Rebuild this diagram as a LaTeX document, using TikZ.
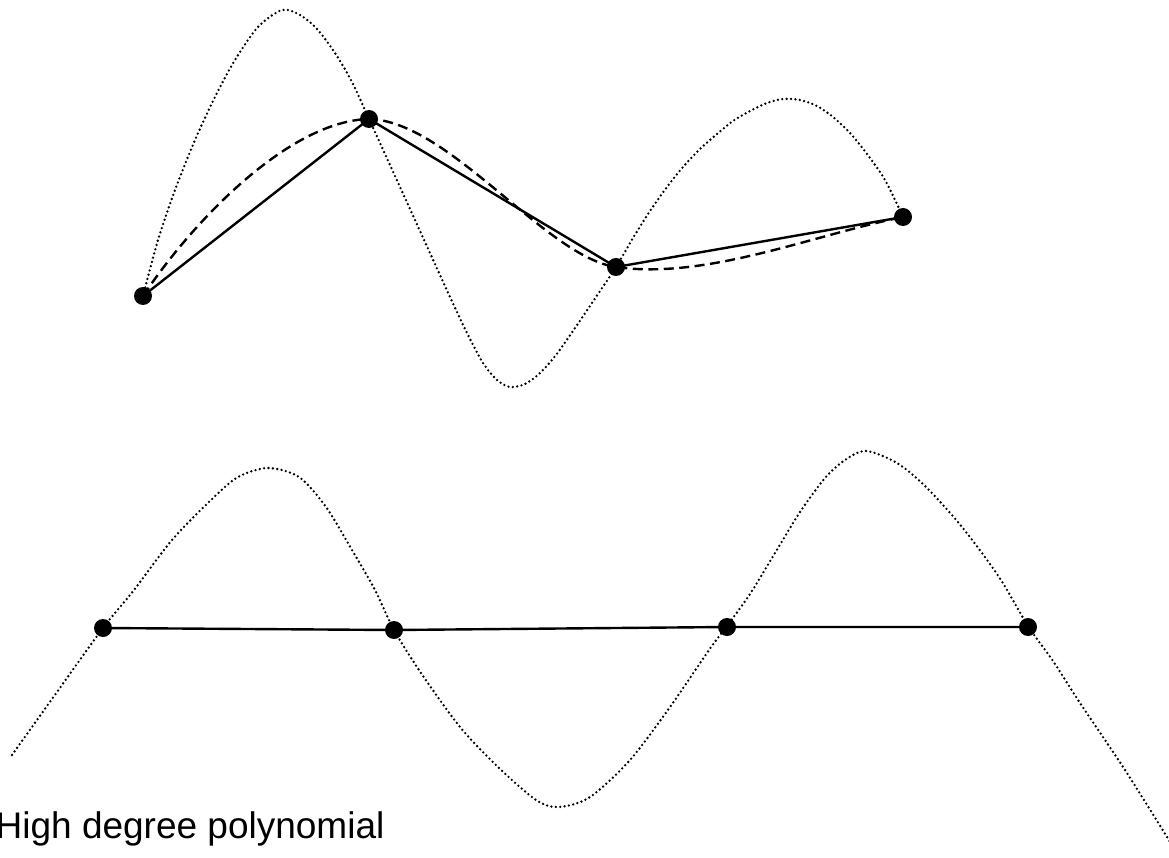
\documentclass[tikz,border=0pt]{standalone}
\usepackage{fontspec}
\newfontfamily\labelfont{Liberation Sans}
\begin{document}
\begin{tikzpicture}[x=1pt,y=-1pt,
  polyline/.style={line width=2.4pt, line cap=round, line join=round},
  dotcurve/.style={line width=2.6pt, line cap=round, dash pattern=on 0pt off 4.4pt},
  dashcurve/.style={line width=2.4pt, dash pattern=on 10pt off 5.5pt},
  datapt/.style={circle, fill=black, inner sep=0pt, minimum size=18pt}]
\useasboundingbox (0,0) rectangle (1169,858);

% ---------- top data points (coordinates) ----------
\coordinate (c1) at (143,296);
\coordinate (c2) at (369,119);
\coordinate (c3) at (616,267);
\coordinate (c4) at (903,217);

% ---------- top: high degree polynomial (dotted) ----------
\draw[dotcurve] plot[smooth, tension=0.5] coordinates {
 (143,296) (158,240) (175,190) (195,140) (215,97) (235,60) (258,27) (282,10)
 (300,15) (317,29) (335,53) (352,82) (369,119) (390,165) (410,209) (430,253)
 (450,297) (467,333) (483,363) (497,380) (510,387) (525,384) (540,373)
 (556,355) (575,328) (596,297) (616,267) (633,238) (650,211) (667,187)
 (683,167) (700,149) (717,134) (733,121) (750,111) (767,103) (783,99)
 (800,100) (817,106) (833,117) (850,133) (867,154) (885,180) (903,217)};

% ---------- top: smooth spline (dashed) ----------
\draw[dashcurve] (c1) .. controls (193,221) and (289,121) .. (c2)
                      .. controls (449,121) and (546,257) .. (c3)
                      .. controls (706,280) and (813,235) .. (c4);

% ---------- top nodes and polyline ----------
\node[datapt] (p1) at (c1) {};
\node[datapt] (p2) at (c2) {};
\node[datapt] (p3) at (c3) {};
\node[datapt] (p4) at (c4) {};
\draw[polyline] (p1.center) -- (p2.center) -- (p3.center) -- (p4.center);

% ---------- bottom: polynomial (dotted) ----------
\draw[dotcurve] plot[smooth, tension=0.5] coordinates {
 (12,755) (57,692) (103,628) (134,590) (172,540) (211,500) (238,477)
 (268,468) (299,477) (326,507) (352,550) (375,590) (394,630) (421,673)
 (460,727) (498,767) (536,800) (559,807) (590,797) (630,760) (670,707)
 (709,650) (727,626) (750,594) (775,553) (800,512) (825,478) (845,460)
 (866,451) (897,463) (926,487) (962,527) (999,577) (1028,626) (1053,661)
 (1080,703) (1125,770) (1172,845)};

% ---------- bottom nodes and polyline ----------
\node[datapt] (q1) at (103,628) {};
\node[datapt] (q2) at (394,630) {};
\node[datapt] (q3) at (727,627) {};
\node[datapt] (q4) at (1028,627) {};
\draw[polyline] (q1.center) -- (q2.center) -- (q3.center) -- (q4.center);

% ---------- label ----------
\node[anchor=base west, inner sep=0pt, font=\labelfont\fontsize{37}{44}\selectfont]
  (lbl) at (-4.5,838) {High degree polynomial};
\end{tikzpicture}
\end{document}
